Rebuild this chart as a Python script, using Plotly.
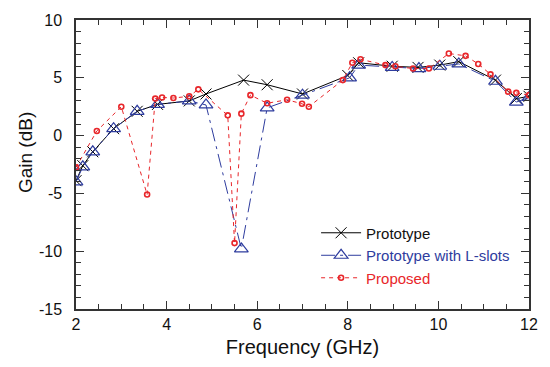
import plotly.graph_objects as go

# Prototype
proto_f = [2.0, 2.15, 2.37, 2.83, 3.35, 3.8, 4.5, 4.87, 5.7, 6.22, 7.0, 8.0, 8.24, 8.98, 9.55, 10.03, 10.45, 11.26, 11.72, 12.0]
proto_g = [-3.9, -2.6, -1.4, 0.6, 2.1, 2.7, 3.0, 3.6, 4.8, 4.4, 3.6, 5.2, 6.3, 6.0, 5.9, 6.1, 6.4, 4.8, 3.2, 3.4]

# Prototype with L-slots
lslot_f = [2.0, 2.15, 2.37, 2.83, 3.35, 3.8, 4.5, 4.87, 5.65, 6.22, 7.0, 8.04, 8.24, 8.98, 9.57, 10.03, 10.45, 11.26, 11.72, 12.0]
lslot_g = [-4.0, -2.7, -1.4, 0.6, 2.1, 2.7, 3.0, 2.65, -9.8, 2.4, 3.5, 5.0, 6.1, 5.9, 5.8, 6.0, 6.2, 4.7, 2.9, 3.3]

# Proposed
prop_f = [2.0, 2.46, 3.0, 3.57, 3.75, 3.9, 4.15, 4.5, 4.7, 5.35, 5.5, 5.65, 5.85, 6.22, 6.66, 6.99, 7.14,
          7.89, 8.1, 8.28, 8.83, 9.05, 9.44, 9.79, 10.23, 10.6, 10.88, 11.15, 11.54, 11.72, 12.0]
prop_g = [-2.75, 0.4, 2.5, -5.1, 3.2, 3.3, 3.25, 3.4, 4.0, 1.75, -9.3, 1.9, 3.5, 2.8, 3.1, 2.75, 2.5,
          4.8, 6.3, 6.6, 6.1, 6.0, 5.8, 5.8, 7.1, 6.9, 6.2, 5.3, 3.8, 3.7, 3.5]

# Tick labels
y_tick_vals = [-15, -10, -5, 0, 5, 10]
y_tick_text = ["-15", "-10", "-5", "0", "5", "10"]

BLACK = "#000000"
BLUE = "#2e3c9e"
RED = "#e8262a"
FONT = "Arial, Liberation Sans, sans-serif"

fig = go.Figure()
fig.add_trace(go.Scatter(
    x=proto_f, y=proto_g, mode="lines+markers", name="Prototype",
    line=dict(color=BLACK, width=1),
    marker=dict(symbol="x-thin-open", size=11, line=dict(color=BLACK, width=1), color=BLACK)))
fig.add_trace(go.Scatter(
    x=lslot_f, y=lslot_g, mode="lines+markers",
    name="<span style='color:%s'>Prototype with L-slots</span>" % BLUE,
    line=dict(color=BLUE, width=1, dash="14px,5px,3px,5px"),
    marker=dict(symbol="triangle-up-open", size=12, line=dict(color=BLUE, width=1.2), color=BLUE)))
fig.add_trace(go.Scatter(
    x=prop_f, y=prop_g, mode="lines+markers",
    name="<span style='color:%s'>Proposed</span>" % RED,
    line=dict(color=RED, width=1, dash="4px,4px"),
    marker=dict(symbol="circle-open", size=5, line=dict(color=RED, width=1.6), color=RED)))

axis_common = dict(
    showgrid=False, zeroline=False, showline=True, linecolor="#333333", linewidth=1.5,
    mirror="ticks", ticks="inside", ticklen=8, tickwidth=1.2, tickcolor="#333333",
    tickfont=dict(family=FONT, size=16, color="#111111"),
)
fig.update_xaxes(range=[2, 12], dtick=2, tick0=2,
                 minor=dict(dtick=0.5, ticks="inside", ticklen=5, tickcolor="#333333", tickwidth=1),
                 title=dict(text="Frequency (GHz)", font=dict(family=FONT, size=20, color="#111111"), standoff=8),
                 **axis_common)
fig.update_yaxes(range=[-15, 10], tickmode="array", tickvals=y_tick_vals,
                 ticktext=[t + "  " for t in y_tick_text],
                 minor=dict(dtick=1, tick0=-15, ticks="inside", ticklen=5, tickcolor="#333333", tickwidth=1),
                 **axis_common)

fig.add_annotation(text="Gain (dB)", xref="paper", yref="paper", x=-0.111, y=0.542,
                   textangle=-90, showarrow=False, xanchor="center", yanchor="middle",
                   font=dict(family=FONT, size=19, color="#111111"))

fig.update_layout(
    width=550, height=367,
    margin=dict(l=76, r=17, t=15, b=55),
    paper_bgcolor="white", plot_bgcolor="white",
    font=dict(family=FONT, size=15, color="#111111"),
    showlegend=True,
    legend=dict(x=0.53, y=0.32, xanchor="left", yanchor="top", bgcolor="rgba(0,0,0,0)",
                font=dict(family=FONT, size=15), itemwidth=40, tracegroupgap=0),
)

fig.write_html("out.html")
